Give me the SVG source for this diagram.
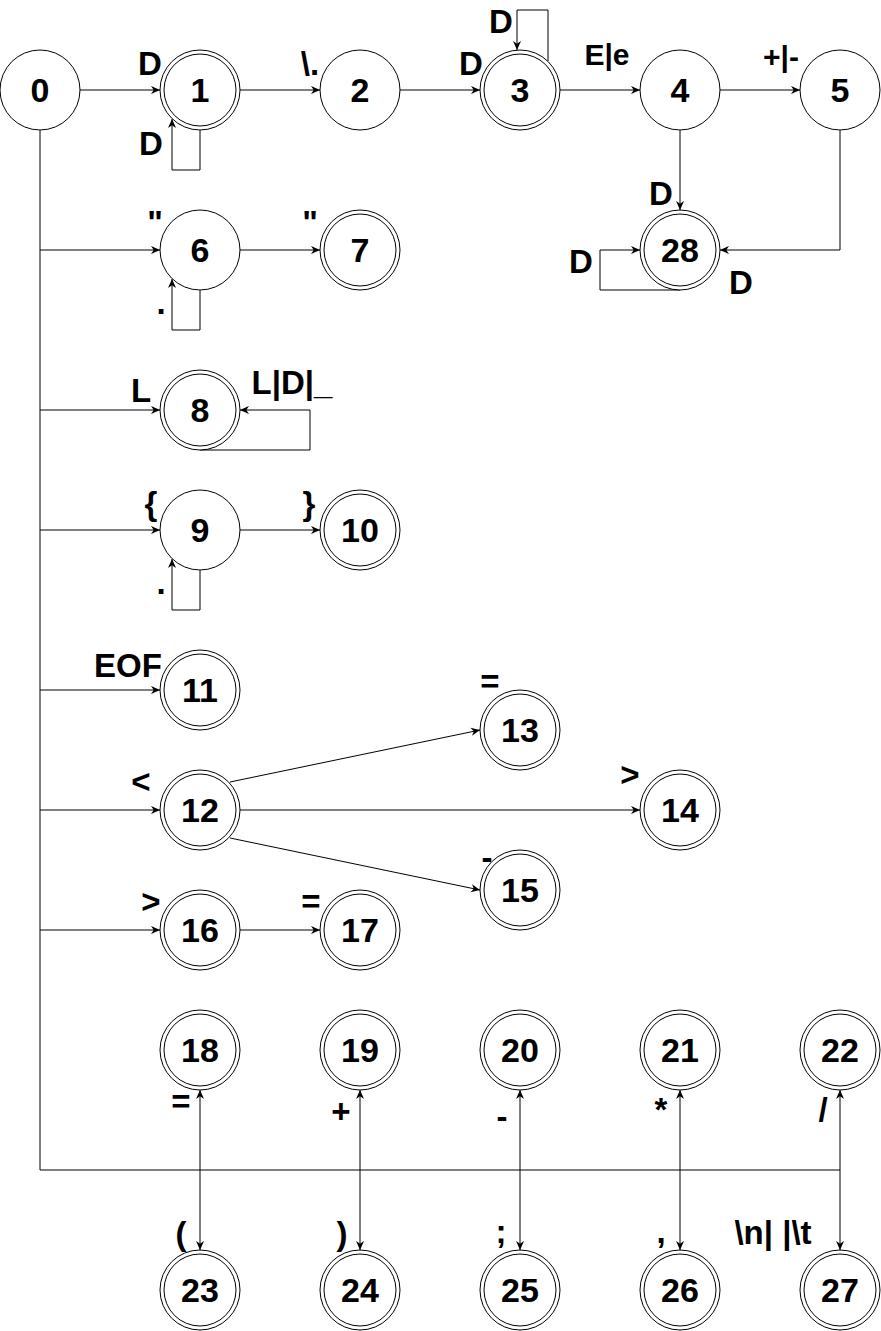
<svg xmlns="http://www.w3.org/2000/svg" width="881" height="1331" viewBox="0 0 881 1331">
<style>
.c{fill:#fff;stroke:#000;stroke-width:1}
.i{fill:none;stroke:#000;stroke-width:1}
.n{font-family:"Liberation Sans",Arial,sans-serif;font-weight:bold;font-size:34px;text-anchor:middle;fill:#000}
.e{fill:none;stroke:#000;stroke-width:1;marker-end:url(#a)}
.l{font-family:"Liberation Sans",Arial,sans-serif;font-weight:bold;font-size:33px;text-anchor:middle;fill:#000}
.s{font-size:30px}
</style>
<defs>
<marker id="a" viewBox="0 0 10 10" refX="10" refY="5" markerWidth="9" markerHeight="9" markerUnits="userSpaceOnUse" orient="auto">
<path d="M0,0.5 L10,5 L0,9.5 L3,5 z" fill="#000"/>
</marker>
<g id="dbl"><circle class="c" r="40"/><circle class="i" r="36"/></g>
<circle id="sgl" class="c" r="40"/>
</defs>
<rect width="881" height="1331" fill="#fff"/>
<g id="connectors">
<path class="e" d="M80,90 H160"/>
<path class="e" d="M240,90 H320"/>
<path class="e" d="M400,90 H480"/>
<path class="e" d="M560,90 H640"/>
<path class="e" d="M720,90 H800"/>
<path class="e" d="M200,130 V170 H172 V119"/>
<path class="e" d="M548,61 V10 H517 V50"/>
<path class="e" d="M680,130 V210"/>
<path class="e" d="M840,130 V250 H720"/>
<path class="e" d="M680,290 H600 V250 H640"/>
<path class="i" d="M40,130 V1170 H840"/>
<path class="e" d="M40,250 H160"/>
<path class="e" d="M240,250 H320"/>
<path class="e" d="M200,290 V330 H172 V279"/>
<path class="e" d="M40,410 H160"/>
<path class="e" d="M200,450 H310 V410 H240"/>
<path class="e" d="M40,530 H160"/>
<path class="e" d="M240,530 H320"/>
<path class="e" d="M200,570 V610 H172 V559"/>
<path class="e" d="M40,690 H160"/>
<path class="e" d="M40,810 H160"/>
<path class="e" d="M230,782 L480,730"/>
<path class="e" d="M240,810 H640"/>
<path class="e" d="M230,838 L480,890"/>
<path class="e" d="M40,930 H160"/>
<path class="e" d="M240,930 H320"/>
<path class="e" d="M200,1170 V1090"/><path class="e" d="M200,1170 V1250"/>
<path class="e" d="M360,1170 V1090"/><path class="e" d="M360,1170 V1250"/>
<path class="e" d="M520,1170 V1090"/><path class="e" d="M520,1170 V1250"/>
<path class="e" d="M680,1170 V1090"/><path class="e" d="M680,1170 V1250"/>
<path class="e" d="M840,1170 V1090"/><path class="e" d="M840,1170 V1250"/>
<text class="l" x="150" y="75">D</text>
<text class="l" x="310" y="75">\.</text>
<text class="l" x="151" y="155">D</text>
<text class="l" x="471" y="75">D</text>
<text class="l" x="501" y="33">D</text>
<text class="l s" x="607" y="65">E|e</text>
<text class="l s" x="781" y="67">+|-</text>
<text class="l" x="661" y="205">D</text>
<text class="l" x="741" y="294">D</text>
<text class="l" x="581" y="273">D</text>
<text class="l" x="155" y="234">"</text>
<text class="l" x="310" y="234">"</text>
<text class="l" x="161" y="314">.</text>
<text class="l" x="141" y="402">L</text>
<text class="l" x="292" y="394">L|D|_</text>
<text class="l" x="151" y="515">{</text>
<text class="l" x="309" y="515">}</text>
<text class="l" x="161" y="594">.</text>
<text class="l" x="128" y="677">EOF</text>
<text class="l" x="141" y="793">&lt;</text>
<text class="l" x="490" y="693">=</text>
<text class="l" x="630" y="786">&gt;</text>
<text class="l" x="487" y="869">-</text>
<text class="l" x="151" y="913">&gt;</text>
<text class="l" x="311" y="913">=</text>
<text class="l" x="181" y="1113">=</text>
<text class="l" x="341" y="1123">+</text>
<text class="l" x="502" y="1128">-</text>
<text class="l" x="661" y="1121">*</text>
<text class="l" x="823" y="1121">/</text>
<text class="l" x="181" y="1245">(</text>
<text class="l" x="342" y="1245">)</text>
<text class="l" x="501" y="1243">;</text>
<text class="l" x="661" y="1243">,</text>
<text class="l" x="773" y="1244">\n| |\t</text>
</g>
<g id="node0"><use href="#sgl" x="40" y="90"/><text class="n" x="40" y="102">0</text></g>
<g id="node1"><use href="#dbl" x="200" y="90"/><text class="n" x="200" y="102">1</text></g>
<g id="node2"><use href="#sgl" x="360" y="90"/><text class="n" x="360" y="102">2</text></g>
<g id="node3"><use href="#dbl" x="520" y="90"/><text class="n" x="520" y="102">3</text></g>
<g id="node4"><use href="#sgl" x="680" y="90"/><text class="n" x="680" y="102">4</text></g>
<g id="node5"><use href="#sgl" x="840" y="90"/><text class="n" x="840" y="102">5</text></g>
<g id="node28"><use href="#dbl" x="680" y="250"/><text class="n" x="680" y="262">28</text></g>
<g id="node6"><use href="#sgl" x="200" y="250"/><text class="n" x="200" y="262">6</text></g>
<g id="node7"><use href="#dbl" x="360" y="250"/><text class="n" x="360" y="262">7</text></g>
<g id="node8"><use href="#dbl" x="200" y="410"/><text class="n" x="200" y="422">8</text></g>
<g id="node9"><use href="#sgl" x="200" y="530"/><text class="n" x="200" y="542">9</text></g>
<g id="node10"><use href="#dbl" x="360" y="530"/><text class="n" x="360" y="542">10</text></g>
<g id="node11"><use href="#dbl" x="200" y="690"/><text class="n" x="200" y="702">11</text></g>
<g id="node12"><use href="#dbl" x="200" y="810"/><text class="n" x="200" y="822">12</text></g>
<g id="node13"><use href="#dbl" x="520" y="730"/><text class="n" x="520" y="742">13</text></g>
<g id="node14"><use href="#dbl" x="680" y="810"/><text class="n" x="680" y="822">14</text></g>
<g id="node15"><use href="#dbl" x="520" y="890"/><text class="n" x="520" y="902">15</text></g>
<g id="node16"><use href="#dbl" x="200" y="930"/><text class="n" x="200" y="942">16</text></g>
<g id="node17"><use href="#dbl" x="360" y="930"/><text class="n" x="360" y="942">17</text></g>
<g id="node18"><use href="#dbl" x="200" y="1050"/><text class="n" x="200" y="1062">18</text></g>
<g id="node19"><use href="#dbl" x="360" y="1050"/><text class="n" x="360" y="1062">19</text></g>
<g id="node20"><use href="#dbl" x="520" y="1050"/><text class="n" x="520" y="1062">20</text></g>
<g id="node21"><use href="#dbl" x="680" y="1050"/><text class="n" x="680" y="1062">21</text></g>
<g id="node22"><use href="#dbl" x="840" y="1050"/><text class="n" x="840" y="1062">22</text></g>
<g id="node23"><use href="#dbl" x="200" y="1290"/><text class="n" x="200" y="1302">23</text></g>
<g id="node24"><use href="#dbl" x="360" y="1290"/><text class="n" x="360" y="1302">24</text></g>
<g id="node25"><use href="#dbl" x="520" y="1290"/><text class="n" x="520" y="1302">25</text></g>
<g id="node26"><use href="#dbl" x="680" y="1290"/><text class="n" x="680" y="1302">26</text></g>
<g id="node27"><use href="#dbl" x="840" y="1290"/><text class="n" x="840" y="1302">27</text></g>
</svg>
